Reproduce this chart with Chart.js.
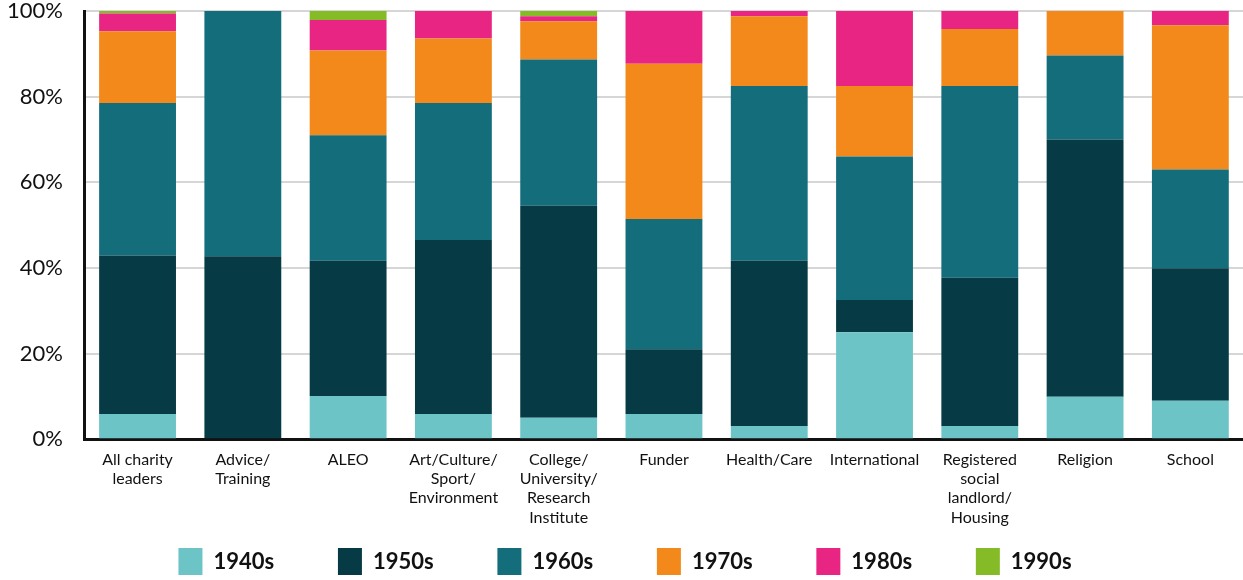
<!DOCTYPE html>
<html>
<head>
<meta charset="utf-8">
<script src="https://cdn.jsdelivr.net/npm/chart.js@4"></script>
<style>
  html, body { margin: 0; padding: 0; background: #fff; }
  #wrap { width: 1243px; height: 580px; position: relative; }
</style>
</head>
<body>
<div id="wrap"><canvas id="chart"></canvas></div>
<script>
// sector labels (multi-line)
const categories = [
  ['All charity', 'leaders'],
  ['Advice/', 'Training'],
  'ALEO',
  ['Art/Culture/', 'Sport/', 'Environment'],
  ['College/', 'University/', 'Research', 'Institute'],
  'Funder',
  'Health/Care',
  'International',
  ['Registered', 'social', 'landlord/', 'Housing'],
  'Religion',
  'School'
];

// share of leaders by decade of birth (%)
const s1940s = [5.9, 0, 10.1, 5.9, 5.0, 5.9, 3.1, 25.0, 3.1, 9.9, 9.0];
const s1950s = [37.0, 42.7, 31.6, 40.6, 49.5, 15.1, 38.6, 7.5, 34.6, 60.1, 30.9];
const s1960s = [35.6, 57.3, 29.3, 32.0, 34.2, 30.4, 40.8, 33.5, 44.8, 19.6, 23.1];
const s1970s = [16.8, 0, 19.8, 15.1, 8.9, 36.3, 16.3, 16.5, 13.3, 10.4, 33.7];
const s1980s = [4.1, 0, 7.1, 6.4, 1.2, 12.3, 1.2, 17.5, 4.2, 0, 3.3];
const s1990s = [0.6, 0, 2.1, 0, 1.2, 0, 0, 0, 0, 0, 0];

const yTicks = [0, 20, 40, 60, 80, 100];

const colors = {
  c1940: '#6cc4c6',
  c1950: '#063a45',
  c1960: '#136d7b',
  c1970: '#f2891a',
  c1980: '#e82583',
  c1990: '#84bb27'
};

const legendFont = { family: 'Lato', size: 22, weight: 'bold' };

function ds(label, data, color) {
  return {
    label: label,
    data: data,
    backgroundColor: color,
    borderWidth: 0,
    barPercentage: 0.73,
    categoryPercentage: 1.0
  };
}

// pad legend text with spaces so the items sit further apart
// without making the legend box taller
const measureCtx = document.createElement('canvas').getContext('2d');
function padText(text, target) {
  measureCtx.font = 'bold 22px Lato';
  let t = text;
  while (measureCtx.measureText(t + ' ').width <= target) t += ' ';
  return t;
}

const data = {
  labels: categories,
  datasets: [
    ds('1940s', s1940s, colors.c1940),
    ds('1950s', s1950s, colors.c1950),
    ds('1960s', s1960s, colors.c1960),
    ds('1970s', s1970s, colors.c1970),
    ds('1980s', s1980s, colors.c1980),
    ds('1990s', s1990s, colors.c1990)
  ]
};

const config = {
  type: 'bar',
  data,
  options: {
    responsive: true,
    maintainAspectRatio: false,
    animation: false,
    layout: {
      padding: { left: 7, right: 0, top: 2, bottom: -5 }
    },
    plugins: {
      tooltip: { enabled: false },
      legend: {
        position: 'bottom',
        labels: {
          boxWidth: 24,
          boxHeight: 27,
          padding: 21,
          color: '#111',
          font: legendFont,
          generateLabels: (chart) => {
            const items = Chart.defaults.plugins.legend.labels.generateLabels(chart);
            items.forEach((it, i) => {
              if (i < items.length - 1) it.text = padText(it.text, 105);
            });
            return items;
          }
        }
      }
    },
    scales: {
      x: {
        stacked: true,
        grid: { display: true, color: 'transparent', drawTicks: true, tickLength: 11, tickColor: 'transparent' },
        border: { display: true, color: '#111', width: 3 },
        ticks: {
          color: '#111',
          padding: 0,
          maxRotation: 0,
          autoSkip: false,
          font: { family: 'Lato', size: 16, lineHeight: 1.2 }
        }
      },
      y: {
        stacked: true,
        min: 0,
        max: 100,
        afterBuildTicks: (axis) => {
          axis.ticks = yTicks.map((v) => ({ value: v }));
        },
        grid: { color: '#d6d6d6', lineWidth: 2, drawTicks: true, tickLength: 22, tickColor: 'transparent' },
        border: { display: true, color: '#111', width: 3 },
        ticks: {
          color: '#111',
          padding: 0,
          callback: (v) => v + '%',
          font: { family: 'Lato', size: 22, lineHeight: 1.0 }
        }
      }
    }
  }
};

new Chart(document.getElementById('chart'), config);
</script>
</body>
</html>
